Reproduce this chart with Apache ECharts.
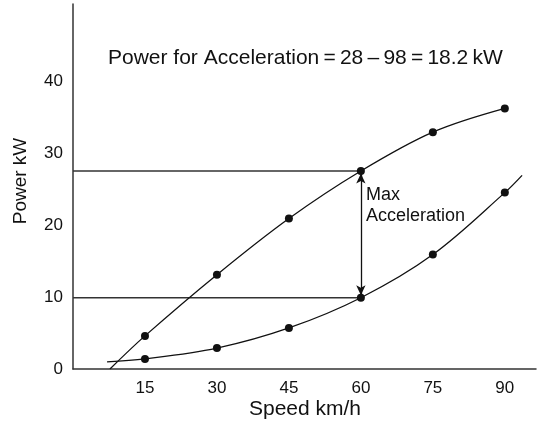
<!DOCTYPE html>
<html>
<head>
<meta charset="utf-8">
<script src="https://cdn.jsdelivr.net/npm/echarts@6/dist/echarts.min.js"></script>
<style>
html,body{margin:0;padding:0;background:#fff;}
#main{width:539px;height:424px;}
</style>
</head>
<body>
<div id="main"></div>
<script>
// Data
var speeds = [15, 30, 45, 60, 75, 90];
var upperPower = [4.6, 13.1, 20.9, 27.5, 32.9, 36.2];
var lowerPower = [1.4, 2.9, 5.7, 9.9, 15.9, 24.5];
var upperStart = [7.7, 0];
var lowerStart = [7.1, 1.0];
var lowerEnd = [93.6, 26.9];
var yTicks = [0, 10, 20, 30, 40];
var xTicks = [15, 30, 45, 60, 75, 90];
var refSpeed = 60;
var maxAccelTop = 27.5;
var maxAccelBottom = 9.9;
var titleText = 'Power for Acceleration\u2009=\u200928\u2009\u2013\u200998\u2009=\u200918.2\u2009kW';
var xName = 'Speed km/h';
var yName = 'Power kW';
var noteLines = ['Max', 'Acceleration'];

var FONT = '"Liberation Sans", Arial, Helvetica, sans-serif';
var INK = '#111';

function curveData(start, xs, ys, end) {
  var d = [];
  if (start) d.push({ value: start, symbol: 'none' });
  for (var i = 0; i < xs.length; i++) d.push({ value: [xs[i], ys[i]] });
  if (end) d.push({ value: end, symbol: 'none' });
  return d;
}

var chart = echarts.init(document.getElementById('main'), null, { renderer: 'canvas' });
chart.setOption({
  animation: false,
  backgroundColor: '#fff',
  grid: { left: 73, right: 1, top: 4, bottom: 55, containLabel: false },
  xAxis: {
    type: 'value', min: 0, max: 96.5, interval: 15,
    axisLine: { show: true, lineStyle: { color: '#333', width: 1.5 } },
    axisTick: { show: false },
    splitLine: { show: false },
    axisLabel: {
      margin: 11, color: INK, fontSize: 17, fontFamily: FONT,
      formatter: function (v) { return xTicks.indexOf(v) >= 0 ? String(v) : ''; }
    }
  },
  yAxis: {
    type: 'value', min: 0, max: 50.7, interval: 10,
    axisLine: { show: true, lineStyle: { color: '#333', width: 1.5 } },
    axisTick: { show: false },
    splitLine: { show: false },
    axisLabel: {
      margin: 10, color: INK, fontSize: 17, fontFamily: FONT,
      padding: [0, 0, 8, 0],
      formatter: function (v) { return yTicks.indexOf(v) >= 0 ? String(v) : ''; }
    }
  },
  series: [
    {
      type: 'line', name: 'upper',
      data: curveData(upperStart, speeds, upperPower, null),
      smooth: 0.35, symbol: 'circle', symbolSize: 8, showAllSymbol: true,
      itemStyle: { color: INK }, lineStyle: { color: INK, width: 1.3 },
      z: 5
    },
    {
      type: 'line', name: 'lower',
      data: curveData(lowerStart, speeds, lowerPower, lowerEnd),
      smooth: 0.35, symbol: 'circle', symbolSize: 8, showAllSymbol: true,
      itemStyle: { color: INK }, lineStyle: { color: INK, width: 1.3 },
      z: 5
    },
    {
      type: 'line', name: 'upperRef',
      data: [[0, maxAccelTop], [refSpeed, maxAccelTop]],
      symbol: 'none', lineStyle: { color: '#333', width: 1.3 }, z: 3
    },
    {
      type: 'line', name: 'lowerRef',
      data: [[0, maxAccelBottom], [refSpeed, maxAccelBottom]],
      symbol: 'none', lineStyle: { color: '#333', width: 1.3 }, z: 3,
      markLine: {
        silent: true,
        symbol: ['arrow', 'arrow'],
        symbolSize: [7, 10],
        label: { show: false },
        lineStyle: { color: INK, width: 1.3, type: 'solid' },
        data: [[
          { coord: [refSpeed, maxAccelBottom + 0.35] },
          { coord: [refSpeed, maxAccelTop - 0.35] }
        ]]
      }
    }
  ],
  graphic: [
    { type: 'text', left: 108, top: 48,
      style: { text: titleText, font: '21px ' + FONT, fill: INK } },
    { type: 'text', left: 366, top: 185,
      style: { text: noteLines.join('\n'), font: '18px ' + FONT, fill: INK, lineHeight: 21 } },
    { type: 'text', x: 21, y: 181, rotation: Math.PI / 2,
      style: { text: yName, font: '19px ' + FONT, fill: INK, textAlign: 'center', textVerticalAlign: 'middle', align: 'center', verticalAlign: 'middle' } },
    { type: 'text', x: 305, y: 409,
      style: { text: xName, font: '21px ' + FONT, fill: INK, textAlign: 'center', textVerticalAlign: 'middle', align: 'center', verticalAlign: 'middle' } }
  ]
});
</script>
</body>
</html>
